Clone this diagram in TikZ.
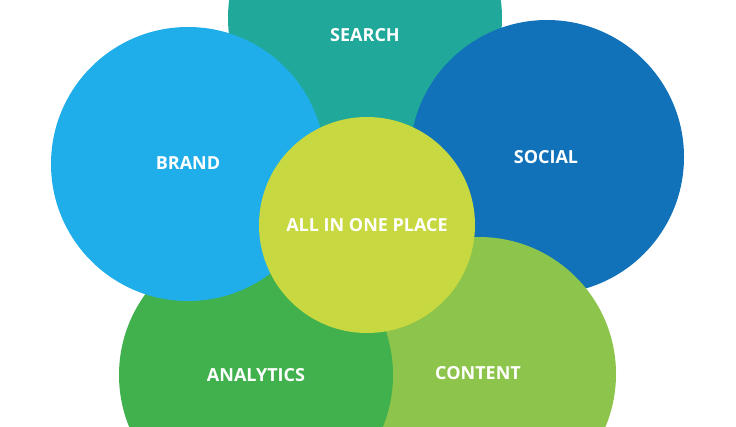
\documentclass[tikz,border=0pt]{standalone}
\usepackage{fontspec}
\setmainfont{Open Sans}
\definecolor{csearch}{RGB}{32,168,154}
\definecolor{cbrand}{RGB}{32,174,235}
\definecolor{csocial}{RGB}{17,114,185}
\definecolor{canalytics}{RGB}{65,177,78}
\definecolor{ccontent}{RGB}{141,196,75}
\definecolor{ccenter}{RGB}{200,216,64}
\begin{document}
\begin{tikzpicture}[x=1pt,y=-1pt,
  bubble/.style={circle,inner sep=0pt,minimum size=274pt},
  lbl/.style={text=white,font=\fontsize{18}{21}\selectfont\bfseries,inner sep=0pt}]
\useasboundingbox (0,0) rectangle (736,426);
\clip (0,0) rectangle (736,426);
\fill[white] (0,0) rectangle (736,426);
\node[bubble,fill=csearch] (search) at (365,18) {};
\node[bubble,fill=csocial] (social) at (547,157) {};
\node[bubble,fill=ccontent] (content) at (479,374) {};
\node[bubble,fill=canalytics] (analytics) at (256,375) {};
\node[bubble,fill=cbrand] (brand) at (188,164) {};
\node[circle,inner sep=0pt,minimum size=216pt,fill=ccenter] (center) at (367,225) {};
\node[lbl] (tsearch) at (365,35) {SEARCH};
\node[lbl] (tbrand) at (188,163) {BRAND};
\node[lbl] (tsocial) at (546,157) {SOCIAL};
\node[lbl] (tcenter) at (367,225) {ALL IN ONE PLACE};
\node[lbl] (tanalytics) at (256,375) {ANALYTICS};
\node[lbl] (tcontent) at (478,373) {CONTENT};
\end{tikzpicture}
\end{document}
